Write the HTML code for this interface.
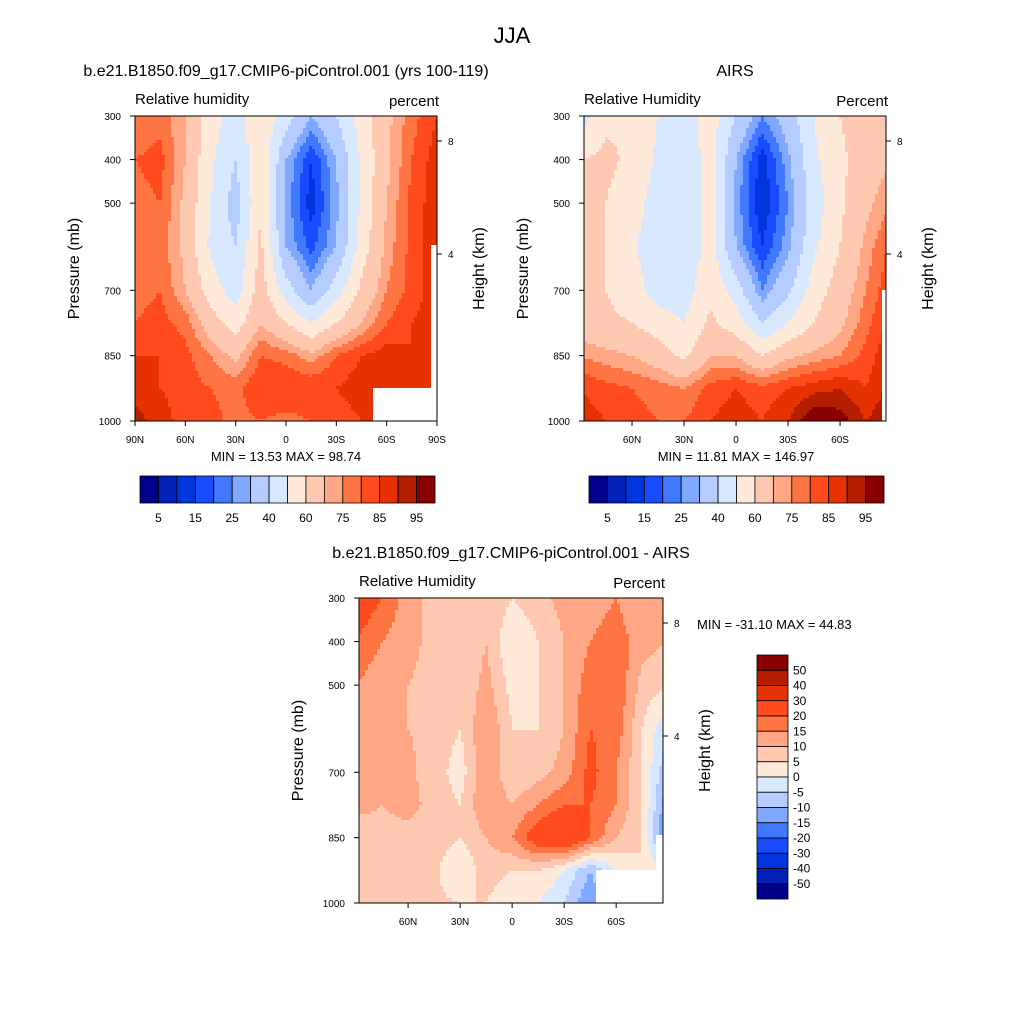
<!DOCTYPE html>
<html><head><meta charset="utf-8"><style>
body{margin:0;background:#fff}
svg text{font-family:"Liberation Sans",sans-serif;fill:#000}
</style></head><body>
<svg id="s" width="1024" height="1024" xmlns="http://www.w3.org/2000/svg">
<text x="512" y="43" font-size="22" text-anchor="middle">JJA</text>
</svg>
<script>
const lats=[90,75,60,45,30,15,0,-15,-30,-45,-60,-75,-90];
const levels=[300,400,500,600,700,775,850,925,1000];
const model=[
[75,78,70,55,45,58,45,30,40,55,68,78,85],
[80,82,70,52,40,60,30,15,30,52,68,80,88],
[78,80,68,50,35,60,28,12,28,52,70,82,88],
[75,78,68,48,40,62,30,18,30,55,72,82,88],
[78,80,70,55,45,65,45,30,45,62,75,82,88],
[80,82,78,65,55,70,60,50,60,70,80,85,88],
[85,85,82,75,68,80,78,72,80,85,88,85,85],
[88,85,82,80,78,85,85,85,85,88,88,85,85],
[92,88,82,82,78,80,78,80,82,85,85,85,85]];
const airs=[
[45,58,60,50,45,55,40,25,35,50,60,65,65],
[60,62,58,48,42,55,30,12,28,48,58,65,70],
[60,60,55,45,40,55,28,10,25,45,58,68,75],
[60,60,52,42,40,55,30,15,28,48,60,72,82],
[62,60,55,45,45,58,45,25,38,55,65,75,85],
[65,62,60,55,50,62,55,40,50,60,68,78,88],
[75,72,70,65,58,70,70,60,68,72,75,82,90],
[85,82,80,78,75,82,85,82,85,88,90,85,92],
[88,85,82,80,80,85,88,85,90,100,98,90,95]];
const diff=[
[25,20,12,8,8,10,5,8,12,12,15,10,10],
[20,15,12,8,5,10,0,5,10,15,18,12,10],
[15,11,10,8,5,12,3,5,10,18,20,8,5],
[12,10,10,9,5,15,5,5,10,20,18,5,-5],
[11,10,11,8,2,15,5,8,12,22,15,5,-10],
[11,10,11,9,5,15,10,15,20,20,15,5,-15],
[8,9,9,8,5,10,15,25,30,20,10,5,-20],
[6,6,6,6,0,8,5,5,0,-10,0,5,0],
[6,6,6,6,5,5,0,0,-5,-15,0,0,0]];
const rhLevels=[5,10,15,20,25,30,40,50,60,70,75,80,85,90,95];
const rhLabels=["5","15","25","40","60","75","85","95"];
const dLevels=[-50,-40,-30,-20,-15,-10,-5,0,5,10,15,20,30,40,50];
const dLabels=["-50","-40","-30","-20","-15","-10","-5","0","5","10","15","20","30","40","50"];
const colors=["#00008a","#0020b8","#0034dc","#1a4cff","#4078ff","#80a8ff","#b4ccff","#d7e8ff","#ffe9d8","#ffc9b1","#ffa784","#ff7443","#ff4b1e","#e63200","#b41e00","#880000"];
const S=document.getElementById('s');const NS="http://www.w3.org/2000/svg";
function mk(t,a,txt){const e=document.createElementNS(NS,t);for(const k in a)e.setAttribute(k,a[k]);if(txt!==undefined)e.textContent=txt;S.appendChild(e);return e;}
function lvlIdx(v,lv){let i=0;while(i<lv.length&&v>=lv[i])i++;return i;}
function sample(g,lat,p){
 let c=(90-lat)/15;c=Math.max(0,Math.min(11.999,c));const ci=Math.floor(c),cf=c-ci;
 let r=0;while(r<levels.length-2&&p>levels[r+1])r++;let rf=(p-levels[r])/(levels[r+1]-levels[r]);rf=Math.max(0,Math.min(1,rf));
 const a=g[r][ci]*(1-cf)+g[r][ci+1]*cf,b=g[r+1][ci]*(1-cf)+g[r+1][ci+1]*cf;return a*(1-rf)+b*rf;}
function panel(o){
 const {x0,y0,w,h,latL,latR,grid,lv,name}=o;
 const xs=lat=>x0+(latL-lat)/(latL-latR)*w;
 const ys=p=>y0+(p-300)/700*h;
 const st=3;
 for(let y=y0;y<y0+h;y+=st){
  const hh=Math.min(st,y0+h-y)+0.5;
  const p=300+(Math.min(y+st/2,y0+h)-y0)/h*700;
  let runX=x0,runC=null;
  const flush=(xe)=>{if(runC===null)return;const r=mk('rect',{x:runX,y:y,width:xe-runX+0.3,height:hh,fill:runC});
    
    };
  for(let x=x0;x<x0+w;x+=st){
   const lat=latL-(Math.min(x+st/2,x0+w)-x0)/w*(latL-latR);
   const col=colors[lvlIdx(sample(grid,lat,p),lv)];
   if(col!==runC){flush(x);runX=x;runC=col;}
  }
  flush(x0+w);
 }
 (o.mask||[]).forEach(m=>{const r=mk('rect',{x:m[0],y:m[1],width:m[2],height:m[3],fill:'#fff'});});
 const fr=mk('rect',{x:x0,y:y0,width:w,height:h,fill:'none',stroke:'#000','stroke-width':1});
 
 [300,400,500,700,850,1000].forEach(p=>{
  mk('line',{x1:x0,x2:x0-5,y1:ys(p),y2:ys(p),stroke:'#000'});
  const t=mk('text',{x:x0-14,y:ys(p)+4,'font-size':10,'text-anchor':'end'},p);});
 o.xt.forEach(l=>{const x=xs(l);mk('line',{x1:x,x2:x,y1:y0+h,y2:y0+h+5,stroke:'#000'});
  const t=mk('text',{x:x,y:y0+h+22,'font-size':10,'text-anchor':'middle'},l===0?'0':(Math.abs(l)+(l>0?'N':'S')));});
 [[8,y0+25],[4,y0+138]].forEach(k=>{mk('line',{x1:x0+w,x2:x0+w+5,y1:k[1],y2:k[1],stroke:'#000'});mk('text',{x:x0+w+11,y:k[1]+4,'font-size':10},k[0]);});
 let t=mk('text',{x:x0-56,y:y0+h/2,'font-size':16,'text-anchor':'middle',transform:`rotate(-90 ${x0-56} ${y0+h/2})`},'Pressure (mb)');
 t=mk('text',{x:x0+w+47,y:y0+h/2,'font-size':16,'text-anchor':'middle',transform:`rotate(-90 ${x0+w+47} ${y0+h/2})`},'Height (km)');
 t=mk('text',{x:x0,y:y0-12,'font-size':15},o.left);
 t=mk('text',{x:x0+w+2,y:y0-10,'font-size':15,'text-anchor':'end'},o.right);
 t=mk('text',{x:x0+w/2,y:y0-40,'font-size':16,'text-anchor':'middle'},o.title);
}
function hbar(x0,y0,name){const bw=295/16;colors.forEach((c,i)=>{const r=mk('rect',{x:x0+i*bw,y:y0,width:bw,height:27,fill:c,stroke:'#000','stroke-width':0.8});});
 rhLabels.forEach((l,i)=>{const t=mk('text',{x:x0+(2*i+1)*bw,y:y0+46,'font-size':12,'text-anchor':'middle'},l);});}
panel({x0:135,y0:116,w:302,h:305,latL:90,latR:-90,grid:model,lv:rhLevels,name:'model-panel',xt:[90,60,30,0,-30,-60,-90],
 left:'Relative humidity',right:'percent',title:'b.e21.B1850.f09_g17.CMIP6-piControl.001 (yrs 100-119)',mask:[[373,388,58,33],[431,245,6,176]]});
mk('text',{x:286,y:461,'font-size':13,'text-anchor':'middle'},'MIN =  13.53  MAX =  98.74');
hbar(140,476,'model-colorbar');
panel({x0:584,y0:116,w:302,h:305,latL:87.7,latR:-86.5,grid:airs,lv:rhLevels,name:'airs-panel',xt:[60,30,0,-30,-60],
 left:'Relative Humidity',right:'Percent',title:'AIRS',mask:[[882,290,4,131]]});
mk('text',{x:736,y:461,'font-size':13,'text-anchor':'middle'},'MIN =  11.81  MAX = 146.97');
hbar(589,476,'airs-colorbar');
panel({x0:359,y0:598,w:304,h:305,latL:88.3,latR:-87,grid:diff,lv:dLevels,name:'diff-panel',xt:[60,30,0,-30,-60],
 left:'Relative Humidity',right:'Percent',title:'b.e21.B1850.f09_g17.CMIP6-piControl.001 - AIRS',mask:[[596,870,67,33],[656,835,7,68]]});
mk('text',{x:697,y:629,'font-size':13},'MIN = -31.10  MAX =  44.83');
{const bh=244/16;colors.slice().reverse().forEach((c,i)=>{const r=mk('rect',{x:757,y:655+i*bh,width:31,height:bh,fill:c,stroke:'#000','stroke-width':0.8});});
 dLabels.slice().reverse().forEach((l,i)=>{const t=mk('text',{x:793,y:655+(i+1)*bh+4,'font-size':12},l);});}
</script>
</body></html>
